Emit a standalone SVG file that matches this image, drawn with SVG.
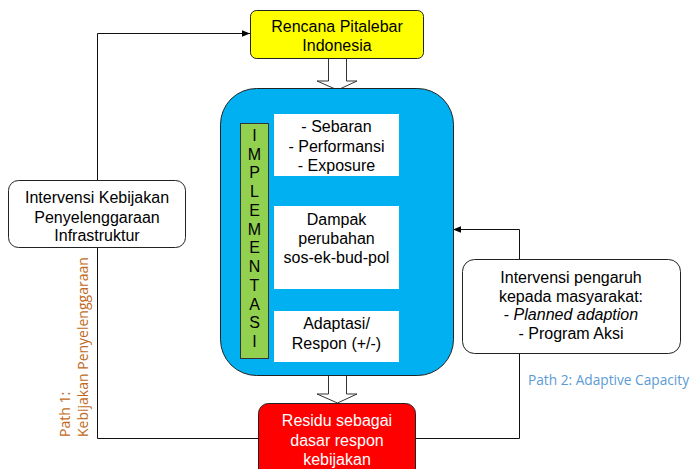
<svg xmlns="http://www.w3.org/2000/svg" width="693" height="469" viewBox="0 0 693 469">
  <defs>
    <style>
      .t { font-family: "Liberation Sans", Arial, sans-serif; font-size: 16px; fill: #000; text-anchor: middle; }
      .w { fill: #fff; }
      .box { stroke: #222; stroke-width: 1; }
      .line { fill: none; stroke: #111; stroke-width: 1; }
      .hollow { fill: #fff; stroke: #333; stroke-width: 1; }
      .path1 { font-family: "Open Sans", "Liberation Sans", sans-serif; font-size: 14px; fill: #BF6A22; }
      .path2 { font-family: "Open Sans", "Liberation Sans", sans-serif; font-size: 13.7px; fill: #5B9BD5; }
    </style>
    <marker id="arr" viewBox="0 0 10 10" refX="10" refY="5" markerWidth="8" markerHeight="8" markerUnits="userSpaceOnUse" orient="auto">
      <path d="M0,1 L10,5 L0,9 Z" fill="#000"/>
    </marker>
  </defs>

  <rect width="693" height="469" fill="#fff"/>

  <!-- connectors -->
  <g id="connectors">
    <!-- path 1: from residu, up the left side, into the plan box -->
    <polyline class="line" points="258.5,438.5 97.5,438.5 97.5,33.5 250,33.5" marker-end="url(#arr)"/>
    <!-- path 2: from residu, up the right side, into the implementation block -->
    <polyline class="line" points="415,438.5 519.5,438.5 519.5,229.5 453,229.5" marker-end="url(#arr)"/>
    <!-- internal flow -->
    <line class="line" x1="337.5" y1="176" x2="337.5" y2="206" marker-end="url(#arr)"/>
    <line class="line" x1="337.5" y1="289" x2="337.5" y2="311" marker-end="url(#arr)"/>
    <!-- block arrows -->
    <path class="hollow" d="M328.5,58 H346.5 V81 H357 L337.5,90 L317,81 H328.5 Z"/>
    <path class="hollow" d="M328.5,375 H346.5 V394 H357 L337.5,403 L317,394 H328.5 Z"/>
  </g>

  <g id="node-rencana">
    <rect class="box" x="250.5" y="10.5" width="173" height="48" rx="6" fill="#FFFF00"/>
    <text class="t" x="337" y="32">Rencana Pitalebar</text>
    <text class="t" x="337" y="51">Indonesia</text>
  </g>

  <g id="node-implementasi-block">
    <rect class="box" x="220.5" y="88.5" width="233" height="287" rx="36" fill="#00B0F0"/>
  </g>

  <g id="node-implementasi-label">
    <rect x="240.5" y="123.5" width="28" height="235" fill="#92D050" stroke="#333" stroke-width="1"/>
    <text class="t" x="254.5" y="141">I</text>
    <text class="t" x="254.5" y="160">M</text>
    <text class="t" x="254.5" y="178">P</text>
    <text class="t" x="254.5" y="197">L</text>
    <text class="t" x="254.5" y="216">E</text>
    <text class="t" x="254.5" y="235">M</text>
    <text class="t" x="254.5" y="253">E</text>
    <text class="t" x="254.5" y="272">N</text>
    <text class="t" x="254.5" y="291">T</text>
    <text class="t" x="254.5" y="310">A</text>
    <text class="t" x="254.5" y="328">S</text>
    <text class="t" x="254.5" y="347">I</text>
  </g>

  <g id="node-sebaran">
    <rect x="274" y="114" width="125" height="62" fill="#fff"/>
    <text class="t" x="336.5" y="132">- Sebaran</text>
    <text class="t" x="336.5" y="152">- Performansi</text>
    <text class="t" x="336.5" y="171">- Exposure</text>
  </g>

  <g id="node-dampak">
    <rect x="274" y="206" width="125" height="83" fill="#fff"/>
    <text class="t" x="336.5" y="225">Dampak</text>
    <text class="t" x="336.5" y="244">perubahan</text>
    <text class="t" x="336.5" y="263">sos-ek-bud-pol</text>
  </g>

  <g id="node-adaptasi">
    <rect x="274" y="311" width="125" height="51" fill="#fff"/>
    <text class="t" x="336.5" y="329">Adaptasi/</text>
    <text class="t" x="336.5" y="349">Respon (+/-)</text>
  </g>

  <g id="node-intervensi-kebijakan">
    <rect class="box" x="8.5" y="180.5" width="177" height="67" rx="10" fill="#fff"/>
    <text class="t" x="97" y="203">Intervensi Kebijakan</text>
    <text class="t" x="97" y="223">Penyelenggaraan</text>
    <text class="t" x="97" y="241">Infrastruktur</text>
  </g>

  <g id="node-intervensi-pengaruh">
    <rect class="box" x="462.5" y="259.5" width="218" height="94" rx="12" fill="#fff"/>
    <text class="t" x="571" y="283">Intervensi pengaruh</text>
    <text class="t" x="571" y="302">kepada masyarakat:</text>
    <text class="t" x="571" y="320">- <tspan font-style="italic">Planned adaption</tspan></text>
    <text class="t" x="571" y="339">- Program Aksi</text>
  </g>

  <g id="node-residu">
    <rect class="box" x="258.5" y="403.5" width="157" height="80" rx="10" fill="#FF0000"/>
    <text class="t w" x="337" y="426">Residu sebagai</text>
    <text class="t w" x="337" y="446">dasar respon</text>
    <text class="t w" x="337" y="465">kebijakan</text>
  </g>

  <g id="path-labels">
    <text class="path1" transform="translate(70,437) rotate(-90)">Path 1:</text>
    <text class="path1" transform="translate(88,437) rotate(-90)">Kebijakan Penyelenggaraan</text>
    <text class="path2" x="528" y="385">Path 2: Adaptive Capacity</text>
  </g>
</svg>
